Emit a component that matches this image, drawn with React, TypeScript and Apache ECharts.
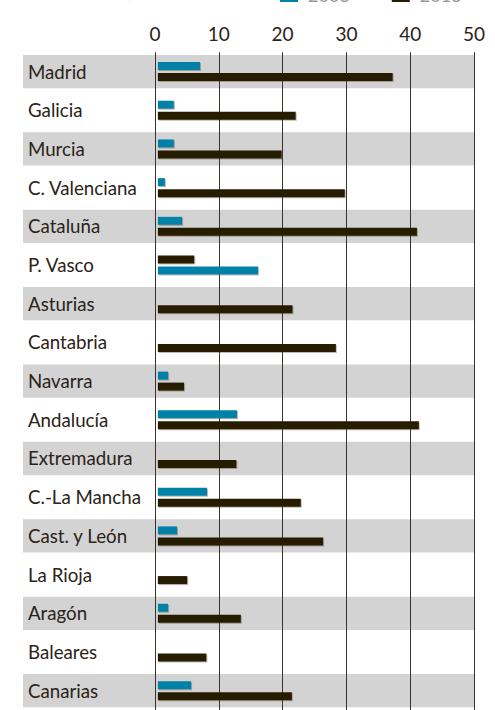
import React, { useEffect, useRef } from "react";
import * as echarts from "echarts";

const categories = [
  "Madrid", "Galicia", "Murcia", "C. Valenciana", "Cataluña", "P. Vasco",
  "Asturias", "Cantabria", "Navarra", "Andalucía", "Extremadura",
  "C.-La Mancha", "Cast. y León", "La Rioja", "Aragón", "Baleares", "Canarias",
];
const values2008: (number | null)[] = [
  6.6, 2.5, 2.5, 1.1, 3.8, 15.7, null, null, 1.6, 12.4, null, 7.7, 3.0, null, 1.6, null, 5.2,
];
const values2013: (number | null)[] = [
  36.8, 21.6, 19.4, 29.3, 40.6, 5.7, 21.1, 27.9, 4.1, 40.9, 12.3, 22.4, 25.9, 4.6, 13.0, 7.6, 21.0,
];
// rows whose two bars are drawn in swapped order in the original
const swappedRows = ["P. Vasco"];
const xTicks = [0, 10, 20, 30, 40, 50];
const legendNames = ["2008", "2013"];
const titleText = "Evolución, en número";

const TEAL = "#0082a8";
const DARK = "#261a05";
const GRAY = "#d3d3d3";
const TEXT = "#2b2218";
const FONT = "Lato";

export default function App() {
  const ref = useRef<HTMLDivElement>(null);
  useEffect(() => {
    if (!ref.current) return;
    const chart = echarts.init(ref.current, null, { renderer: "svg" });
    const gridTop = 52.2;
    const gridHeight = 661.3;

    const topSlot = categories.map((c, i) => {
      const swapped = swappedRows.includes(c);
      const v = swapped ? values2013[i] : values2008[i];
      return v == null ? "-" : { value: v, itemStyle: { color: swapped ? DARK : TEAL } };
    });
    const bottomSlot = categories.map((c, i) => {
      const swapped = swappedRows.includes(c);
      const v = swapped ? values2008[i] : values2013[i];
      return v == null ? "-" : { value: v, itemStyle: { color: swapped ? TEAL : DARK } };
    });
    const bands = categories.map((_, i) => (i % 2 === 0 ? 1 : "-"));

    const shadow = {
      shadowColor: "rgba(70,50,20,0.35)",
      shadowOffsetX: 1,
      shadowOffsetY: 1,
      shadowBlur: 1,
    };

    chart.setOption({
      animation: false,
      backgroundColor: "#ffffff",
      title: {
        text: titleText,
        left: 46,
        top: -23,
        textStyle: { fontFamily: FONT, fontSize: 18, fontWeight: "normal", color: "#999999" },
      },
      legend: {
        data: legendNames,
        left: 275,
        top: -19,
        itemWidth: 18,
        itemHeight: 14,
        itemGap: 42,
        icon: "rect",
        textStyle: { fontFamily: FONT, fontSize: 18, color: "#999999", padding: [0, 0, 0, 5] },
      },
      grid: [
        { left: 155, right: 21, top: gridTop, height: gridHeight, containLabel: false },
        { left: 23, right: 21, top: gridTop, height: gridHeight, containLabel: false },
      ],
      xAxis: [
        {
          type: "value",
          gridIndex: 0,
          position: "top",
          min: 0,
          max: 50,
          interval: 10,
          axisLine: { show: false },
          axisTick: { show: false },
          axisLabel: {
            fontFamily: FONT,
            fontSize: 19,
            color: TEXT,
            margin: 9,
            formatter: (v: number) => (xTicks.includes(v) ? String(v) : ""),
          },
          splitLine: { show: true, lineStyle: { color: "#3b3127", width: 1 } },
          z: 3,
        },
        {
          type: "value",
          gridIndex: 0,
          min: -0.45,
          max: 49.55,
          show: false,
        },
        {
          type: "value",
          gridIndex: 1,
          min: 0,
          max: 1,
          show: false,
        },
      ],
      yAxis: [
        {
          type: "category",
          gridIndex: 0,
          data: categories,
          inverse: true,
          axisLine: { show: false },
          axisTick: { show: false },
          axisLabel: {
            fontFamily: FONT,
            fontSize: 18.7,
            color: TEXT,
            align: "left",
            margin: 127,
          },
          splitLine: { show: false },
        },
        {
          type: "category",
          gridIndex: 1,
          data: categories,
          inverse: true,
          show: false,
        },
      ],
      series: [
        {
          type: "bar",
          name: "bands",
          xAxisIndex: 2,
          yAxisIndex: 1,
          data: bands,
          barWidth: "86%",
          itemStyle: { color: GRAY },
          silent: true,
          z: -5,
        },
        {
          type: "bar",
          name: legendNames[0],
          xAxisIndex: 1,
          yAxisIndex: 0,
          data: topSlot,
          barWidth: 8,
          barGap: "37.5%",
          itemStyle: { color: TEAL, ...shadow },
          z: 5,
        },
        {
          type: "bar",
          name: legendNames[1],
          xAxisIndex: 1,
          yAxisIndex: 0,
          data: bottomSlot,
          barWidth: 8,
          barGap: "37.5%",
          itemStyle: { color: DARK, ...shadow },
          z: 5,
        },
      ],
    });
    return () => chart.dispose();
  }, []);
  return (
    <div
      ref={ref}
      style={{ position: "fixed", left: 0, top: 0, width: 495, height: 710 }}
    />
  );
}
